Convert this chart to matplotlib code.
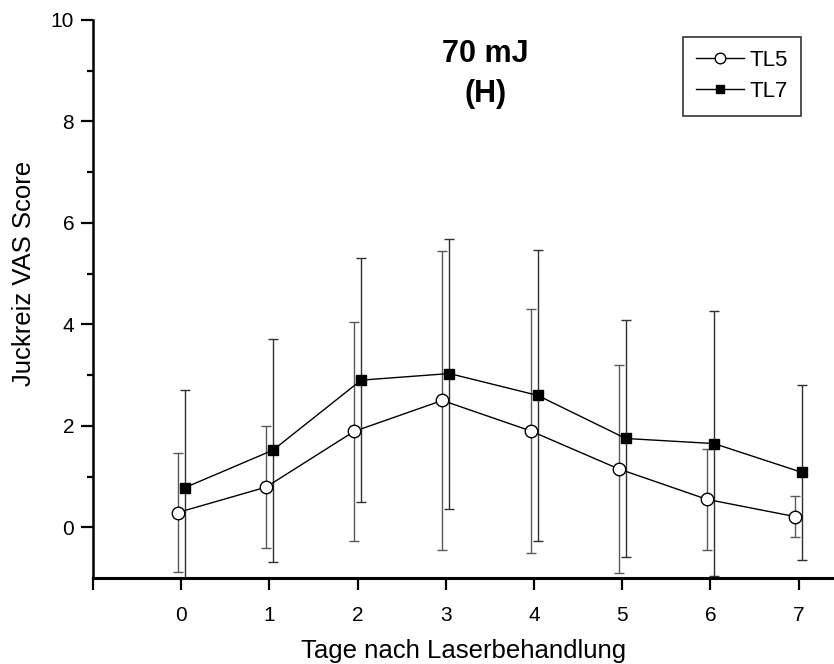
import numpy as np
import matplotlib
matplotlib.use("Agg")
import matplotlib.pyplot as plt
from matplotlib.ticker import FixedLocator

plt.rcParams['font.family'] = ['Liberation Sans', 'DejaVu Sans']

days = [0, 1, 2, 3, 4, 5, 6, 7]
tl5_mean = [0.29, 0.79, 1.89, 2.50, 1.90, 1.15, 0.55, 0.21]
tl5_sd = [1.17, 1.20, 2.16, 2.95, 2.40, 2.05, 1.00, 0.40]
tl7_mean = [0.78, 1.52, 2.90, 3.03, 2.60, 1.75, 1.65, 1.08]
tl7_sd = [1.93, 2.20, 2.41, 2.66, 2.87, 2.33, 2.62, 1.72]

x = np.array(days, dtype=float)

fig = plt.figure(figsize=(8.34, 6.64), dpi=100)
ax = fig.add_axes([0.1115, 0.1295, 0.8885, 0.8405])

ax.errorbar(x - 0.04, tl5_mean, yerr=tl5_sd, fmt='none', ecolor='#5a5a5a',
            elinewidth=1, capsize=3.6, capthick=1, zorder=2)
ax.errorbar(x + 0.04, tl7_mean, yerr=tl7_sd, fmt='none', ecolor='#303030',
            elinewidth=1, capsize=3.6, capthick=1, zorder=2)
ax.plot(x - 0.04, tl5_mean, '-o', color='black', lw=1, ms=9,
        mfc='white', mec='black', mew=1, label='TL5', zorder=3)
ax.plot(x + 0.04, tl7_mean, '-s', color='black', lw=1, ms=7.5,
        mfc='black', mec='black', label='TL7', zorder=3)

ax.set_xlim(-1, 7.4)
ax.set_ylim(-1, 10)
ax.spines['top'].set_visible(False)
ax.spines['right'].set_visible(False)
ax.spines['left'].set_linewidth(1.8)
ax.spines['bottom'].set_linewidth(2.2)

ax.xaxis.set_major_locator(FixedLocator(list(range(-1, 8))))
ax.set_xticklabels([''] + [str(d) for d in days])
ax.yaxis.set_major_locator(FixedLocator([0, 2, 4, 6, 8, 10]))
ax.yaxis.set_minor_locator(FixedLocator([1, 3, 5, 7, 9]))
ax.tick_params(axis='both', which='major', direction='out', length=8.5,
               width=1.6, labelsize=15)
ax.tick_params(axis='x', which='major', pad=12)
ax.tick_params(axis='y', which='major', pad=5)
ax.tick_params(axis='y', which='minor', direction='out', length=4, width=1.6)

ax.set_xlabel('Tage nach Laserbehandlung', fontsize=18.5, labelpad=10)
ax.set_ylabel('Juckreiz VAS Score', fontsize=18.5)
ax.yaxis.set_label_coords(-0.077, 0.545)

ax.text(0.53, 0.965, '70 mJ\n(H)', transform=ax.transAxes, ha='center',
        va='top', fontsize=22, fontweight='bold', linespacing=1.4)

leg = ax.legend(loc='upper right', bbox_to_anchor=(0.9555, 0.9695),
                borderaxespad=0, fontsize=16,
                frameon=True, fancybox=False, edgecolor='black',
                handlelength=2.15, borderpad=0.6, labelspacing=0.45,
                handletextpad=0.25, markerscale=0.85)
leg.get_frame().set_linewidth(1.2)

fig.savefig('out.png', dpi=100)
